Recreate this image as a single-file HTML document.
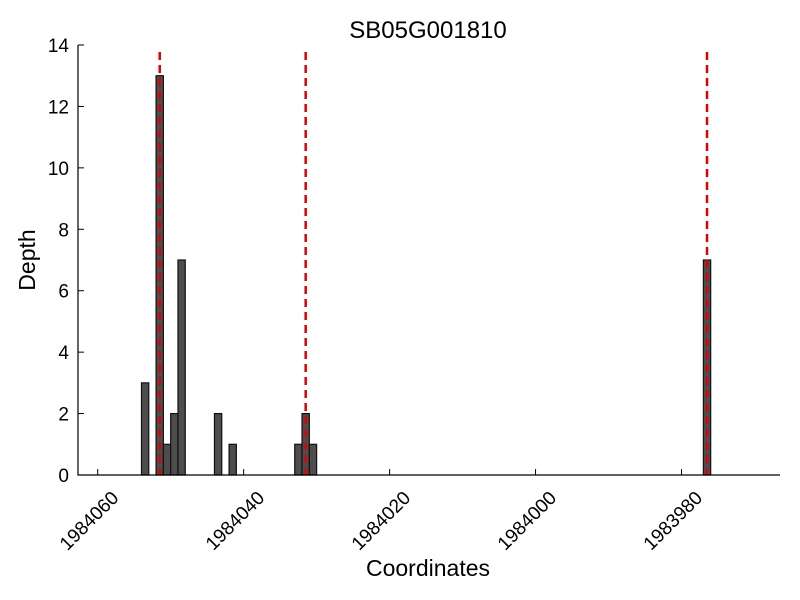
<!DOCTYPE html>
<html><head><meta charset="utf-8"><style>
body{margin:0;background:#fff;}
svg{display:block;font-family:"Liberation Sans",sans-serif;}
</style></head><body>
<svg id="chart" width="800" height="600">
<text x="428" y="38" font-size="24" text-anchor="middle">SB05G001810</text>
<text x="428" y="576" font-size="23" text-anchor="middle">Coordinates</text>
<text x="35" y="260" font-size="23" text-anchor="middle" transform="rotate(-90 35 260)">Depth</text>
<g id="bars"></g><g id="vlines"></g><g id="axes"></g>
</svg>
<script>
const barStarts=[1984054,1984052,1984051,1984050,1984049,1984044,1984042,1984033,1984032,1984031,1983977];
const barDepths=[3,13,1,2,7,2,1,1,2,1,7];
const markers=[1984051.5,1984031.5,1983976.5];
const xTicks=[1984060,1984040,1984020,1984000,1983980];
const yTicks=[0,2,4,6,8,10,12,14];
const X0=78,X1=780,Y0=475,Y1=45,XMIN=1984062.7,XMAX=1983966.5,YMAX=14;
const sx=v=>X0+(XMIN-v)/(XMIN-XMAX)*(X1-X0);
const sy=v=>Y0-v/YMAX*(Y0-Y1);
const NS="http://www.w3.org/2000/svg";
function mk(t,a,p){const e=document.createElementNS(NS,t);for(const k in a)e.setAttribute(k,a[k]);p.appendChild(e);return e;}
const gb=document.getElementById('bars'),gv=document.getElementById('vlines'),ga=document.getElementById('axes');
barStarts.forEach((s,i)=>{const x1=sx(s),x2=sx(s-1);
const r=mk('rect',{x:x1,y:sy(barDepths[i]),width:x2-x1,height:sy(0)-sy(barDepths[i]),fill:'#4d4d4d',stroke:'#111','stroke-width':1.2},gb);

});
markers.forEach((m,i)=>{const l=mk('line',{x1:sx(m),x2:sx(m),y1:52,y2:Y0,stroke:'#e00000','stroke-width':2.5,'stroke-dasharray':'8,5'},gv);

});
const ax=mk('path',{d:`M${X0},${Y1}V${Y0}H${X1}`,fill:'none',stroke:'#000','stroke-width':1.2},ga);


yTicks.forEach(v=>{const y=sy(v);mk('line',{x1:X0,x2:X0+6,y1:y,y2:y,stroke:'#000'},ga);
const t=mk('text',{x:X0-9,y:y+7,'font-size':19,'text-anchor':'end'},ga);t.textContent=v;

});
xTicks.forEach(v=>{const x=sx(v);mk('line',{x1:x,x2:x,y1:Y0,y2:Y0-6,stroke:'#000'},ga);
const ax_=x+22,ay=Y0+24;
const t=mk('text',{x:ax_,y:ay,'font-size':19,'text-anchor':'end',transform:`rotate(-45 ${ax_} ${ay})`},ga);t.textContent=v;

});
</script>
</body></html>
